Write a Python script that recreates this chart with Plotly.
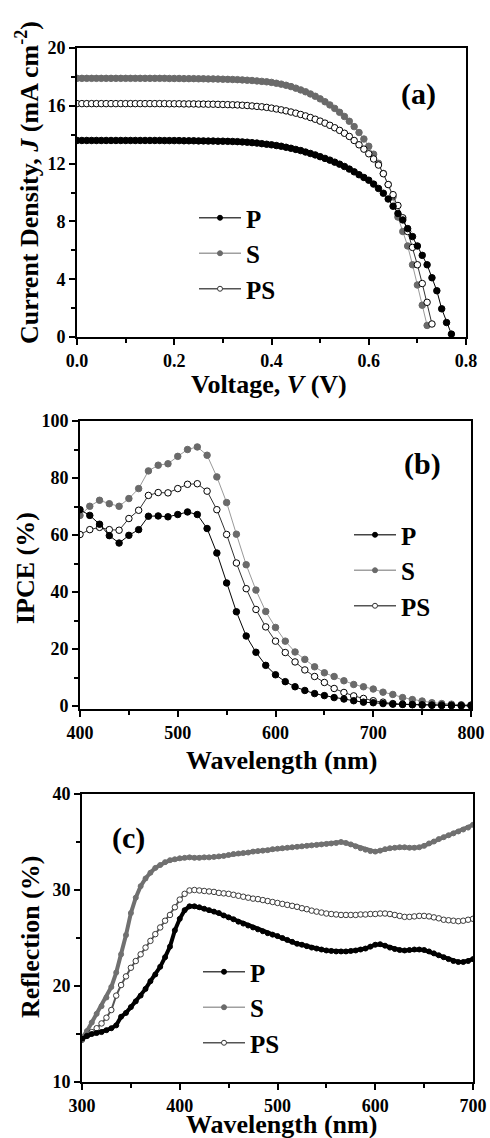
import plotly.graph_objects as go

# ---------------- (a) J-V data ----------------
v_step = 0.01
jv_P = [13.60, 13.60, 13.60, 13.60, 13.60, 13.60, 13.60, 13.60, 13.60, 13.60,
        13.60, 13.60, 13.60, 13.60, 13.60, 13.60, 13.60, 13.60, 13.59, 13.59,
        13.59, 13.59, 13.58, 13.58, 13.58, 13.57, 13.57, 13.56, 13.56, 13.55,
        13.55, 13.54, 13.53, 13.52, 13.50, 13.48, 13.45, 13.42, 13.38, 13.34,
        13.30, 13.25, 13.20, 13.13, 13.06, 12.98, 12.90, 12.80, 12.70, 12.60,
        12.48, 12.36, 12.24, 12.10, 11.96, 11.80, 11.62, 11.43, 11.23, 11.04,
        10.85, 10.58, 10.28, 9.95, 9.55, 9.05, 8.55, 8.10, 7.50, 6.95,
        6.30, 5.65, 5.00, 4.10, 3.20, 1.95, 1.00, 0.20]
jv_S = [17.90, 17.90, 17.90, 17.90, 17.90, 17.90, 17.90, 17.90, 17.90, 17.90,
        17.90, 17.90, 17.90, 17.90, 17.90, 17.90, 17.90, 17.90, 17.90, 17.89,
        17.89, 17.89, 17.88, 17.88, 17.88, 17.87, 17.87, 17.86, 17.86, 17.85,
        17.84, 17.83, 17.82, 17.81, 17.79, 17.77, 17.75, 17.72, 17.69, 17.66,
        17.62, 17.56, 17.50, 17.42, 17.33, 17.22, 17.10, 16.97, 16.82, 16.66,
        16.48, 16.28, 16.06, 15.82, 15.55, 15.26, 14.93, 14.56, 14.15, 13.70,
        13.20, 12.65, 12.02, 11.32, 10.55, 9.70, 8.30, 7.30, 6.30, 5.00,
        3.60, 2.20, 0.80]
jv_PS = [16.15, 16.15, 16.15, 16.15, 16.15, 16.15, 16.15, 16.15, 16.15, 16.15,
         16.15, 16.15, 16.15, 16.15, 16.15, 16.15, 16.15, 16.15, 16.15, 16.14,
         16.14, 16.14, 16.13, 16.13, 16.13, 16.12, 16.12, 16.11, 16.11, 16.10,
         16.09, 16.08, 16.07, 16.06, 16.04, 16.02, 15.99, 15.96, 15.93, 15.89,
         15.84, 15.78, 15.72, 15.65, 15.57, 15.49, 15.40, 15.30, 15.19, 15.07,
         14.94, 14.80, 14.65, 14.48, 14.30, 14.10, 13.88, 13.60, 13.30, 13.00,
         12.68, 12.32, 11.90, 11.30, 10.55, 9.85, 9.10, 8.25, 7.30, 6.20,
         5.00, 3.70, 2.40, 0.90]
volt_P = [round(i * v_step, 2) for i in range(len(jv_P))]
volt_S = [round(i * v_step, 2) for i in range(len(jv_S))]
volt_PS = [round(i * v_step, 2) for i in range(len(jv_PS))]

# ---------------- (b) IPCE data ----------------
wl_ipce = list(range(400, 801, 10))
ipce_P = [68.9, 66.9, 63.8, 59.8, 57.2, 59.9, 61.9, 66.6, 66.7, 66.4,
          67.2, 68.1, 67.2, 62.3, 53.7, 43.2, 33.1, 24.6, 18.9, 14.3,
          11.0, 8.6, 6.8, 5.5, 4.4, 3.7, 3.0, 2.5, 1.9, 1.4,
          1.2, 0.9, 0.7, 0.6, 0.5, 0.4, 0.3, 0.2, 0.2, 0.1, 0.1]
ipce_S = [66.9, 70.1, 72.2, 71.0, 70.1, 72.8, 76.3, 82.5, 84.5, 85.0,
          87.6, 90.0, 90.9, 88.0, 80.4, 71.4, 60.3, 49.6, 40.7, 33.2,
          27.6, 22.8, 19.0, 16.4, 13.8, 11.7, 10.4, 8.9, 7.6, 6.8,
          6.0, 4.9, 4.1, 3.0, 2.3, 1.8, 1.2, 0.9, 0.7, 0.5, 0.4]
ipce_PS = [60.2, 61.9, 62.7, 61.9, 61.7, 65.8, 68.7, 73.9, 74.9, 74.8,
           76.3, 77.8, 78.0, 75.4, 68.9, 60.2, 50.2, 41.2, 33.9, 27.8,
           22.8, 18.8, 15.5, 12.7, 10.4, 8.3, 6.2, 4.8, 3.6, 2.7,
           1.9, 1.4, 0.9, 0.7, 0.6, 0.5, 0.4, 0.4, 0.3, 0.3, 0.3]

# ---------------- (c) Reflection data ----------------
wl_refl = list(range(300, 701, 5))
refl_P = [14.5, 14.8, 15.0, 15.1, 15.2, 15.4, 15.6, 15.9, 16.8, 17.2,
          17.8, 18.4, 19.0, 19.7, 20.5, 21.2, 22.0, 23.0, 24.1, 25.8,
          27.0, 27.9, 28.3, 28.3, 28.2, 28.05, 27.9, 27.75, 27.6, 27.35,
          27.15, 26.95, 26.7, 26.5, 26.3, 26.1, 25.9, 25.7, 25.5, 25.35,
          25.2, 25.0, 24.8, 24.6, 24.4, 24.3, 24.15, 24.0, 23.9, 23.8,
          23.7, 23.65, 23.6, 23.6, 23.6, 23.65, 23.7, 23.8, 23.9, 24.1,
          24.3, 24.35, 24.2, 24.0, 23.85, 23.75, 23.7, 23.75, 23.8, 23.8,
          23.75, 23.6, 23.4, 23.2, 23.0, 22.8, 22.6, 22.5, 22.5, 22.6, 22.8]
refl_S = [14.6, 15.3, 16.2, 17.1, 17.9, 18.8, 19.9, 21.4, 23.3, 25.3,
          27.6, 29.2, 30.4, 31.2, 31.8, 32.3, 32.6, 32.9, 33.1, 33.2,
          33.3, 33.35, 33.4, 33.35, 33.35, 33.4, 33.4, 33.45, 33.5, 33.55,
          33.65, 33.75, 33.8, 33.85, 33.9, 34.0, 34.05, 34.1, 34.15, 34.25,
          34.3, 34.35, 34.4, 34.45, 34.5, 34.55, 34.6, 34.65, 34.7, 34.75,
          34.8, 34.85, 34.9, 35.0, 34.9, 34.75, 34.55, 34.35, 34.2, 34.05,
          34.0, 34.1, 34.25, 34.35, 34.4, 34.45, 34.45, 34.4, 34.4, 34.45,
          34.6, 34.85, 35.05, 35.3, 35.5, 35.7, 35.9, 36.1, 36.3, 36.5, 36.8]
refl_PS = [14.4, 14.8, 15.2, 15.6, 16.1, 16.7, 17.5, 19.0, 20.1, 21.0,
           21.9, 22.6, 23.3, 24.0, 24.7, 25.4, 26.1, 26.8, 27.4, 28.2,
           29.0, 29.6, 29.95, 30.0, 29.95, 29.9, 29.85, 29.8, 29.7, 29.65,
           29.6, 29.5, 29.4, 29.3, 29.2, 29.1, 29.05, 28.95, 28.85, 28.75,
           28.65, 28.55, 28.45, 28.35, 28.25, 28.1, 28.0, 27.85, 27.75, 27.65,
           27.55, 27.5, 27.45, 27.4, 27.4, 27.4, 27.4, 27.45, 27.45, 27.5,
           27.5, 27.55, 27.55, 27.5, 27.4, 27.3, 27.2, 27.2, 27.25, 27.3,
           27.3, 27.25, 27.15, 27.05, 26.9, 26.85, 26.8, 26.75, 26.8, 26.9, 27.0]

series_names = ["P", "S", "PS"]
panel_labels = ["(a)", "(b)", "(c)"]

FONT = "Liberation Serif"
W, H = 490, 1138


def px_x(p):
    return p / W


def px_y(p):
    return 1 - p / H


fig = go.Figure()

S_MARK = "#6a6a6a"


def styles(panel):
    if panel == "c":
        return [
            dict(line=dict(color="#000000", width=4), marker=dict(symbol="circle", size=5, color="#000000", line=dict(color="#000000", width=1))),
            dict(line=dict(color="#707070", width=4), marker=dict(symbol="circle", size=5, color="#707070", line=dict(color="#707070", width=1))),
            dict(line=dict(color="#555555", width=2), marker=dict(symbol="circle", size=5.5, color="#ffffff", line=dict(color="#3a3a3a", width=1))),
        ]
    return [
        dict(line=dict(color="#000000", width=1), marker=dict(symbol="circle", size=6.5, color="#000000", line=dict(color="#000000", width=1))),
        dict(line=dict(color="#999999", width=1), marker=dict(symbol="circle", size=6.5, color=S_MARK, line=dict(color=S_MARK, width=1))),
        dict(line=dict(color="#333333", width=1), marker=dict(symbol="circle", size=6.5, color="#ffffff", line=dict(color="#000000", width=1))),
    ]


legend_styles = [
    dict(line=dict(color="#444444", width=1.5), marker=dict(symbol="circle", size=5, color="#000000", line=dict(color="#000000", width=1))),
    dict(line=dict(color="#a0a0a0", width=1.5), marker=dict(symbol="circle", size=5, color=S_MARK, line=dict(color=S_MARK, width=1))),
    dict(line=dict(color="#555555", width=1.5), marker=dict(symbol="circle", size=5, color="#ffffff", line=dict(color="#333333", width=1))),
]

panels = [
    ("a", "x", "y", [volt_P, volt_S, volt_PS], [jv_P, jv_S, jv_PS], "legend"),
    ("b", "x2", "y2", [wl_ipce] * 3, [ipce_P, ipce_S, ipce_PS], "legend2"),
    ("c", "x3", "y3", [wl_refl] * 3, [refl_P, refl_S, refl_PS], "legend3"),
]

for key, xa_, ya_, xs, ys, lg in panels:
    st = styles(key)
    for i in [1, 2, 0]:
        fig.add_trace(go.Scatter(x=xs[i], y=ys[i], mode="lines+markers", name=series_names[i],
                                 xaxis=xa_, yaxis=ya_, showlegend=False, **st[i]))
    for i in range(3):
        fig.add_trace(go.Scatter(x=[None], y=[None], mode="lines+markers", name=series_names[i],
                                 xaxis=xa_, yaxis=ya_, legend=lg, showlegend=True, **legend_styles[i]))

tickfont = dict(family=FONT, size=18, color="black", weight="bold")


def axis(domain, rng, dtick, minor_dtick, anchor, tick0, fmt=None):
    d = dict(domain=domain, range=rng, dtick=dtick, tick0=tick0,
             showline=True, linecolor="black", linewidth=2, mirror=True,
             ticks="outside", ticklen=6, tickwidth=2, tickcolor="black",
             minor=dict(dtick=minor_dtick, tick0=tick0, ticks="outside", ticklen=4, tickwidth=1.5,
                        tickcolor="black", showgrid=False),
             showgrid=False, zeroline=False, tickfont=tickfont, anchor=anchor,
             fixedrange=True, automargin=False)
    if fmt:
        d["tickformat"] = fmt
    return d


xa = axis([px_x(77), px_x(466)], [0, 0.8], 0.2, 0.1, "y", 0, ".1f")
ya = axis([px_y(337), px_y(48)], [0, 20], 4, 2, "x", 0)
xb = axis([px_x(80), px_x(471)], [400, 800], 100, 50, "y2", 400)
yb = axis([px_y(709), px_y(421)], [-1, 100], 20, 10, "x2", 0)
xc = axis([px_x(82), px_x(473)], [300, 700], 100, 50, "y3", 300)
yc = axis([px_y(1082), px_y(794)], [10, 40], 10, 5, "x3", 10)

legfont = dict(family=FONT, size=25, color="black", weight="bold")


def leg(x, y):
    return dict(x=px_x(x), y=px_y(y), xanchor="left", yanchor="top", font=legfont,
                bgcolor="rgba(0,0,0,0)", borderwidth=0, tracegroupgap=0, itemclick=False,
                itemwidth=42)


titlefont = dict(family=FONT, size=26, color="black", weight="bold")
labelfont = dict(family=FONT, size=30, color="black", weight="bold")

annotations = [
    dict(text="Voltage, <i>V</i> (V)", x=px_x(269), y=px_y(384), font=titlefont),
    dict(text="Current Density, <i>J</i> (mA cm<sup>-2</sup>)", x=px_x(27), y=px_y(183), font=titlefont, textangle=-90),
    dict(text="Wavelength (nm)", x=px_x(281), y=px_y(760), font=titlefont),
    dict(text="IPCE (%)", x=px_x(25), y=px_y(568), font=titlefont, textangle=-90),
    dict(text="Wavelength (nm)", x=px_x(281), y=px_y(1124), font=titlefont),
    dict(text="Reflection (%)", x=px_x(30), y=px_y(937), font=titlefont, textangle=-90),
    dict(text=panel_labels[0], x=px_x(418), y=px_y(94), font=labelfont),
    dict(text=panel_labels[1], x=px_x(422), y=px_y(464), font=labelfont),
    dict(text=panel_labels[2], x=px_x(128), y=px_y(838), font=labelfont),
]
for a in annotations:
    a.update(xref="paper", yref="paper", showarrow=False, xanchor="center", yanchor="middle")

fig.update_layout(
    template="none",
    width=W, height=H, autosize=False,
    margin=dict(l=0, r=0, t=0, b=0, pad=0, autoexpand=False),
    paper_bgcolor="white", plot_bgcolor="white",
    xaxis=xa, yaxis=ya, xaxis2=xb, yaxis2=yb, xaxis3=xc, yaxis3=yc,
    legend=leg(194, 195),
    legend2=leg(349, 512),
    legend3=leg(198, 949),
    annotations=annotations,
    showlegend=True,
)

fig.write_html("out.html",
               config={"displayModeBar": False},
               post_script="document.body.style.margin='0';document.body.style.padding='0';"
                           "document.documentElement.style.overflow='hidden';")
